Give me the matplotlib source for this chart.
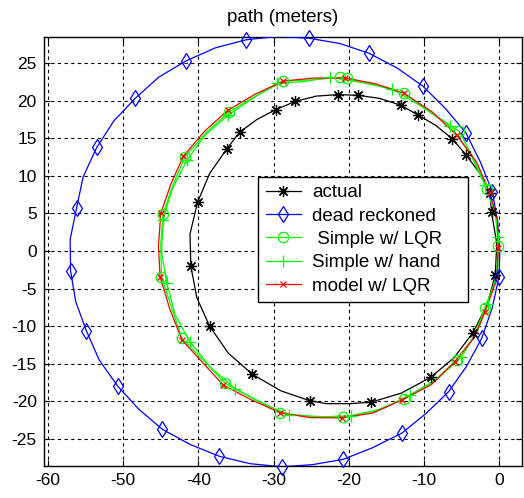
import matplotlib
matplotlib.use('Agg')
import matplotlib.pyplot as plt
from matplotlib.lines import Line2D

plt.rcParams['font.family'] = ['Liberation Sans', 'DejaVu Sans']
plt.rcParams['axes.unicode_minus'] = False

# ---- actual (black, asterisks) ----
act_x = [-0.5, -0.3, -1.0, -1.2, -2.6, -4.4, -6.2, -8.4, -10.8, -13.1, -15.9, -18.7,
         -21.4, -24.3, -27.1, -29.7, -32.2, -34.5, -36.2, -38.5, -40.1, -41.1, -41.0,
         -40.2, -38.5, -36.0, -32.8, -29.0, -25.2, -23.0, -19.8, -17.0, -13.0, -9.1,
         -6.0, -3.5, -1.6, -0.5]
act_y = [-3.2, 1.0, 5.2, 7.7, 10.4, 12.8, 14.9, 16.7, 18.1, 19.4, 20.3, 20.7,
         20.8, 20.6, 19.9, 18.8, 17.5, 15.8, 13.6, 10.3, 6.5, 2.3, -2.0,
         -6.2, -10.0, -13.6, -16.4, -18.6, -19.9, -20.3, -20.3, -20.1, -18.9, -16.8,
         -14.2, -10.9, -7.2, -3.2]
act_mx = [-0.5, -1.0, -1.2, -4.4, -6.2, -10.8, -13.1, -18.7, -21.4, -27.1, -29.7,
          -34.5, -36.2, -40.1, -41.0, -38.5, -32.8, -25.2, -17.0, -9.1, -3.5]
act_my = [-3.2, 5.2, 7.7, 12.8, 14.9, 18.1, 19.4, 20.7, 20.8, 19.9, 18.8,
          15.8, 13.6, 6.5, -2.0, -10.0, -16.4, -19.9, -20.1, -16.8, -10.9]

# ---- dead reckoned (blue, diamonds) ----
dr_x = [-0.9, -2.47, -4.4, -7.08, -10.1, -13.51, -17.3, -21.2, -25.3, -29.45, -33.6,
        -37.72, -41.6, -45.27, -48.4, -51.25, -53.5, -55.32, -56.2, -57.05, -57.0,
        -56.31, -54.9, -53.17, -50.7, -47.93, -44.8, -41.08, -37.2, -33.12, -28.9,
        -24.82, -20.7, -16.78, -12.9, -9.68, -6.7, -4.32, -2.3, -0.93, 0.0, 0.1,
        -0.18, -0.9]
dr_y = [7.9, 11.81, 15.7, 18.90, 21.9, 24.31, 26.3, 27.60, 28.3, 28.53, 28.1,
        27.02, 25.3, 23.12, 20.3, 17.28, 13.8, 9.87, 5.7, 1.55, -2.6,
        -6.73, -10.6, -14.52, -18.0, -21.03, -23.7, -25.73, -27.3, -28.28, -28.7,
        -28.41, -27.7, -26.14, -24.2, -21.58, -18.7, -15.33, -11.6, -7.65, -3.4, -0.05,
        3.93, 7.9]
dr_mx = [-0.9, -4.4, -10.1, -17.3, -25.3, -33.6, -41.6, -48.4, -53.5, -56.2, -57.0,
         -54.9, -50.7, -44.8, -37.2, -28.9, -20.7, -12.9, -6.7, -2.3, 0.0]
dr_my = [7.9, 15.7, 21.9, 26.3, 28.3, 28.1, 25.3, 20.3, 13.8, 5.7, -2.6,
         -10.6, -18.0, -23.7, -27.3, -28.7, -27.7, -24.2, -18.7, -11.6, -3.4]

# ---- Simple w/ LQR (green, circles) ----
lqr_x = [-0.1, -0.38, -1.6, -3.30, -5.3, -9.02, -12.6, -16.41, -20.2, -21.1, -24.85,
         -28.7, -32.36, -35.9, -39.01, -41.8, -43.39, -44.7, -45.0, -44.9, -43.59,
         -42.2, -39.27, -36.4, -32.78, -29.1, -24.85, -20.7, -16.60, -12.7, -8.90,
         -5.6, -3.27, -1.9, -0.37, -0.1]
lqr_y = [0.6, 4.54, 8.3, 12.12, 15.9, 18.42, 21.0, 22.06, 23.0, 23.1, 22.78,
         22.6, 20.62, 18.5, 15.69, 12.5, 8.76, 4.9, 0.79, -3.4, -7.44,
         -11.6, -14.60, -17.6, -19.61, -21.6, -21.98, -22.1, -21.31, -19.7, -17.52,
         -14.5, -11.29, -7.6, -3.66, 0.6]
lqr_mx = [-0.1, -1.6, -5.3, -12.6, -20.2, -21.1, -28.7, -35.9, -41.8, -44.7, -44.9,
          -42.2, -36.4, -29.1, -20.7, -12.7, -5.6, -1.9]
lqr_my = [0.6, 8.3, 15.9, 21.0, 23.0, 23.1, 22.6, 18.5, 12.5, 4.9, -3.4,
          -11.6, -17.6, -21.6, -22.1, -19.7, -14.5, -7.6]

# ---- Simple w/ hand (green, plus) ----
hand_x = [-0.1, -0.58, -1.9, -3.79, -6.5, -10.29, -14.3, -18.36, -22.5, -25.92, -29.5,
          -32.82, -36.0, -39.10, -41.5, -43.48, -44.7, -44.89, -44.2, -43.12, -41.1,
          -38.32, -35.1, -31.54, -28.0, -23.74, -19.7, -15.51, -11.8, -8.14, -5.0,
          -2.89, -1.4, -0.20, -0.1]
hand_y = [1.9, 5.40, 8.8, 12.84, 16.6, 19.22, 21.6, 22.42, 23.1, 22.53, 22.3,
          20.26, 18.1, 15.40, 12.1, 8.21, 4.1, -0.16, -4.2, -8.42, -12.1,
          -15.52, -18.3, -20.18, -21.8, -22.06, -21.9, -21.00, -19.1, -16.95, -14.1,
          -10.67, -7.0, -2.66, 1.9]
hand_mx = [-0.1, -1.9, -6.5, -14.3, -22.5, -29.5, -36.0, -41.5, -44.7, -44.2, -41.1,
           -35.1, -28.0, -19.7, -11.8, -5.0, -1.4]
hand_my = [1.9, 8.8, 16.6, 21.6, 23.1, 22.3, 18.1, 12.1, 4.1, -4.2, -12.1,
           -18.3, -21.8, -21.9, -19.1, -14.1, -7.0]

# ---- model w/ LQR (red, x) ----
mod_x = [-0.1, -0.20, -1.2, -2.96, -5.6, -8.91, -12.7, -16.53, -20.5, -24.62, -28.7,
         -32.45, -36.1, -39.18, -42.0, -43.65, -45.0, -45.30, -45.1, -43.83, -42.2,
         -39.47, -36.7, -33.05, -29.1, -25.09, -20.9, -16.73, -12.9, -8.97, -5.9,
         -3.27, -1.9, -0.29, -0.1]
mod_y = [0.4, 4.11, 7.7, 11.78, 15.4, 18.51, 21.0, 22.27, 23.0, 23.01, 22.6,
         20.85, 18.7, 15.91, 12.6, 8.90, 5.0, 0.68, -3.4, -7.62, -11.8,
         -14.79, -17.8, -19.75, -21.5, -22.16, -22.2, -21.53, -19.8, -17.75, -14.7,
         -11.49, -8.1, -3.78, 0.4]
mod_mx = [-0.1, -1.2, -5.6, -12.7, -20.5, -28.7, -36.1, -42.0, -45.0, -45.1, -42.2,
          -36.7, -29.1, -20.9, -12.9, -5.9, -1.9]
mod_my = [0.4, 7.7, 15.4, 21.0, 23.0, 22.6, 18.7, 12.6, 5.0, -3.4, -11.8,
          -17.8, -21.5, -22.2, -19.8, -14.7, -8.1]

x_ticks = [-60, -50, -40, -30, -20, -10, 0]
y_ticks = [-25, -20, -15, -10, -5, 0, 5, 10, 15, 20, 25]
labels = ['actual', 'dead reckoned', ' Simple w/ LQR', 'Simple w/ hand', 'model w/ LQR']

fig = plt.figure(figsize=(5.24, 4.98), dpi=100)
ax = fig.add_axes([43.7 / 524, 32 / 498, (521.5 - 43.7) / 524, 429.3 / 498])

lw = 0.9
styles = [
    dict(color='k', marker=(8, 2, 0), ms=8, mfc='none'),
    dict(color='b', marker='d', ms=8.5, mfc='none'),
    dict(color=(0, 1, 0), marker='o', ms=7.5, mfc='none'),
    dict(color=(0, 1, 0), marker='+', ms=9),
    dict(color='r', marker='x', ms=5),
]
series = [
    (act_x, act_y, act_mx, act_my),
    (dr_x, dr_y, dr_mx, dr_my),
    (lqr_x, lqr_y, lqr_mx, lqr_my),
    (hand_x, hand_y, hand_mx, hand_my),
    (mod_x, mod_y, mod_mx, mod_my),
]
for (lx, ly, mx, my), st in zip(series, styles):
    ax.plot(lx, ly, '-', color=st['color'], lw=lw, zorder=3)
    ax.plot(mx, my, ls='none', marker=st['marker'], ms=st['ms'], mew=lw,
            mec=st['color'], mfc=st.get('mfc', st['color']), zorder=4, clip_on=False)

ax.set_xlim(-60.57, 2.99)
ax.set_ylim(-28.59, 28.5)
ax.set_xticks(x_ticks)
ax.set_yticks(y_ticks)
ax.grid(True, color='k', ls=(0, (3, 3)), lw=0.8)
ax.set_axisbelow(True)
ax.tick_params(direction='in', top=True, right=True, length=4, width=0.8,
               labelsize=12.5, pad=5)
for sp in ax.spines.values():
    sp.set_linewidth(1.0)
ax.set_title('path (meters)', fontsize=13.5, pad=10.5)

handles = [Line2D([], [], color=st['color'], lw=lw, marker=st['marker'], ms=st['ms'],
                  mew=lw, mfc=st.get('mfc', st['color'])) for st in styles]
# legend box: 258..468 px wide, 177..305 px tall (figure pixels)
leg_x0 = (258.3 - 43.7) / 477.8
leg_w = (468.3 - 258.3) / 477.8
leg_y1 = (466 - 176.7) / 429.3
leg_h = (305 - 176.7) / 429.3
leg = ax.legend(handles, labels, loc='upper left', mode='expand',
                bbox_to_anchor=(leg_x0, leg_y1 - leg_h, leg_w, leg_h),
                borderaxespad=0, fontsize=13.5, fancybox=False, framealpha=1,
                edgecolor='k', handlelength=1.87, handletextpad=0.62,
                labelspacing=0.33, borderpad=0.4, numpoints=1)
leg.get_frame().set_linewidth(1.0)
leg.set_zorder(5)

fig.savefig('out.png', dpi=100)
